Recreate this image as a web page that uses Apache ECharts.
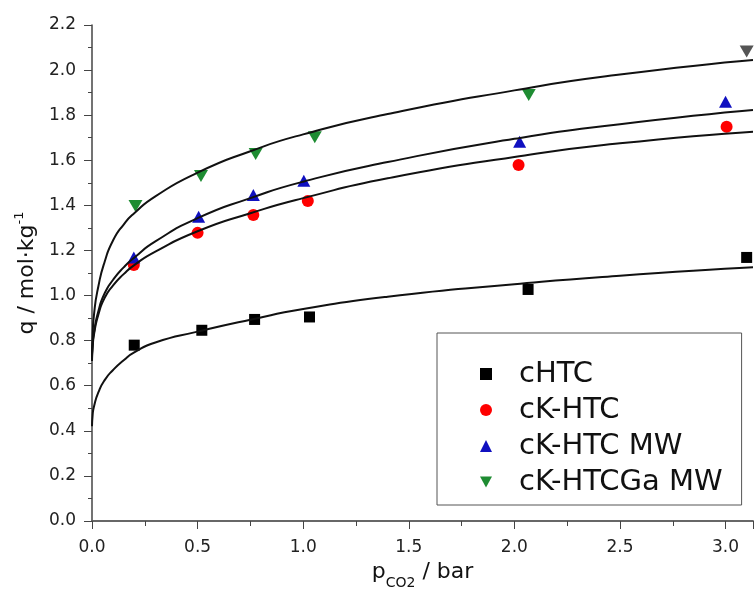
<!DOCTYPE html>
<html>
<head>
<meta charset="utf-8">
<script src="https://cdn.jsdelivr.net/npm/echarts@6/dist/echarts.min.js"></script>
<style>
  html, body { margin: 0; padding: 0; background: #fff; }
  #container { width: 756px; height: 601px; }
</style>
</head>
<body>
<div id="container"></div>
<script>
// measured points
var cHTC = [[0.20, 0.78], [0.52, 0.846], [0.77, 0.894], [1.03, 0.905], [2.065, 1.027], [3.10, 1.169]];
var cKHTC = [[0.198, 1.135], [0.50, 1.278], [0.764, 1.357], [1.022, 1.419], [2.02, 1.579], [3.005, 1.749]];
var cKHTCMW = [[0.198, 1.169], [0.505, 1.349], [0.764, 1.446], [1.003, 1.509], [2.025, 1.682], [3.0, 1.86]];
var cKHTCGaMW = [[0.206, 1.397], [0.516, 1.53], [0.775, 1.628], [1.055, 1.702], [2.068, 1.889], [3.10, 2.082]];

// fitted curves
var fitX = [0, 0.003, 0.01, 0.03, 0.06, 0.1, 0.15, 0.2, 0.3, 0.5, 0.75, 1.0, 1.4, 2.0, 2.5, 3.13];
var fitCHTC = [0.42, 0.47, 0.51, 0.57, 0.625, 0.67, 0.713, 0.748, 0.792, 0.84, 0.893, 0.94, 0.995, 1.05, 1.088, 1.125];
var fitCKHTC = [0.71, 0.77, 0.83, 0.915, 0.99, 1.045, 1.095, 1.135, 1.195, 1.285, 1.365, 1.432, 1.52, 1.615, 1.675, 1.727];
var fitCKHTCMW = [0.72, 0.78, 0.84, 0.93, 1.01, 1.07, 1.125, 1.168, 1.24, 1.343, 1.432, 1.505, 1.592, 1.695, 1.76, 1.823];
var fitCKHTCGaMW = [0.72, 0.82, 0.92, 1.04, 1.15, 1.245, 1.315, 1.365, 1.44, 1.545, 1.64, 1.715, 1.805, 1.91, 1.98, 2.045];

var downTri = "path://M0,0 L10,0 L5,9 Z";

function pairs(xs, ys) {
  return xs.map(function (x, i) { return [x, ys[i]]; });
}

var dom = document.getElementById("container");
var myChart = echarts.init(dom, null, { renderer: "canvas" });

var font = "DejaVu Sans";
var axisColor = "#444";

function fitLine(name, xs, ys) {
  return {
    name: name,
    type: "line",
    data: pairs(xs, ys),
    smooth: 0.6,
    showSymbol: false,
    symbol: "none",
    lineStyle: { color: "#111", width: 2 },
    z: 5,
    silent: true,
  };
}

var option = {
  animation: false,
  textStyle: { fontFamily: font },
  grid: { left: 92, right: 0, top: 25, bottom: 80 },
  legend: {
    orient: "vertical",
    left: 437,
    top: 333,
    padding: [26, 19, 8, 43],
    itemGap: 6,
    itemWidth: 12,
    itemHeight: 12,
    borderColor: "#555",
    borderWidth: 1,
    textStyle: {
      fontFamily: font,
      fontSize: 29,
      color: "#111",
      padding: [0, 0, 0, 22],
      lineHeight: 30,
    },
    data: [
      { name: "cHTC", icon: "rect" },
      { name: "cK-HTC", icon: "circle" },
      { name: "cK-HTC MW", icon: "triangle" },
      { name: "cK-HTCGa MW", icon: downTri },
    ],
  },
  xAxis: [
    {
      type: "value",
      min: 0,
      max: 3.13,
      interval: 0.5,
      name: "{a|p}{s|CO2}{a| / bar}",
      nameLocation: "middle",
      nameGap: 36,
      nameTextStyle: {
        rich: {
          a: { fontFamily: font, fontSize: 22, color: "#111", lineHeight: 28 },
          s: { fontFamily: font, fontSize: 14, color: "#111", verticalAlign: "bottom", lineHeight: 28, padding: [0, 0, -4, 0] },
        },
      },
      axisLine: { show: true, onZero: false, lineStyle: { color: axisColor, width: 1.5 } },
      axisTick: { show: true, inside: false, length: 8, lineStyle: { color: axisColor } },
      minorTick: { show: true, splitNumber: 2, length: 5, lineStyle: { color: axisColor } },
      splitLine: { show: false },
      axisLabel: {
        margin: 18,
        fontSize: 17,
        color: "#222",
        fontFamily: font,
        formatter: function (v) {
          var r = Math.round(v * 2) / 2;
          return Math.abs(r - v) < 1e-6 ? v.toFixed(1) : "";
        },
      },
    },
    {
      type: "value",
      position: "top",
      min: 0,
      max: 3.13,
      axisLine: { show: true, lineStyle: { color: "#666", width: 1.5 } },
      axisTick: { show: false },
      axisLabel: { show: false },
      splitLine: { show: false },
    },
  ],
  yAxis: {
    type: "value",
    min: 0,
    max: 2.2,
    interval: 0.2,
    name: "{a|q / mol·kg}{s|-1}",
    nameLocation: "middle",
    nameRotate: 90,
    nameGap: 46,
    nameTextStyle: {
      rich: {
        a: { fontFamily: font, fontSize: 22, color: "#111", lineHeight: 28 },
        s: { fontFamily: font, fontSize: 13, color: "#111", verticalAlign: "top", lineHeight: 28, padding: [0, 0, 8, 0] },
      },
    },
    axisLine: { show: true, lineStyle: { color: axisColor, width: 1.5 } },
    axisTick: { show: true, inside: false, length: 8, lineStyle: { color: axisColor } },
    minorTick: { show: true, splitNumber: 2, length: 4, lineStyle: { color: axisColor } },
    splitLine: { show: false },
    axisLabel: {
      margin: 16,
      fontSize: 17,
      color: "#222",
      fontFamily: font,
      formatter: function (v) { return v.toFixed(1); },
    },
  },
  series: [
    {
      name: "cHTC",
      type: "scatter",
      symbol: "rect",
      symbolSize: 11,
      itemStyle: { color: "#000", opacity: 1 },
      data: cHTC,
      z: 3,
    },
    {
      name: "cK-HTC",
      type: "scatter",
      symbol: "circle",
      symbolSize: 12,
      itemStyle: { color: "#ff0000", opacity: 1 },
      data: cKHTC,
      z: 3,
    },
    {
      name: "cK-HTC MW",
      type: "scatter",
      symbol: "triangle",
      symbolSize: [13, 12],
      itemStyle: { color: "#1010c0", opacity: 1 },
      data: cKHTCMW,
      z: 3,
    },
    {
      name: "cK-HTCGa MW",
      type: "scatter",
      symbol: downTri,
      symbolSize: [14, 12],
      itemStyle: { color: "#1e8c32", opacity: 1 },
      data: cKHTCGaMW.map(function (p, i) {
        return i === cKHTCGaMW.length - 1 ? { value: p, itemStyle: { color: "#555" } } : p;
      }),
      z: 3,
    },
    fitLine("fit cHTC", fitX, fitCHTC),
    fitLine("fit cK-HTC", fitX, fitCKHTC),
    fitLine("fit cK-HTC MW", fitX, fitCKHTCMW),
    fitLine("fit cK-HTCGa MW", fitX, fitCKHTCGaMW),
  ],
};

myChart.setOption(option);
window.addEventListener("resize", myChart.resize);
</script>
</body>
</html>
